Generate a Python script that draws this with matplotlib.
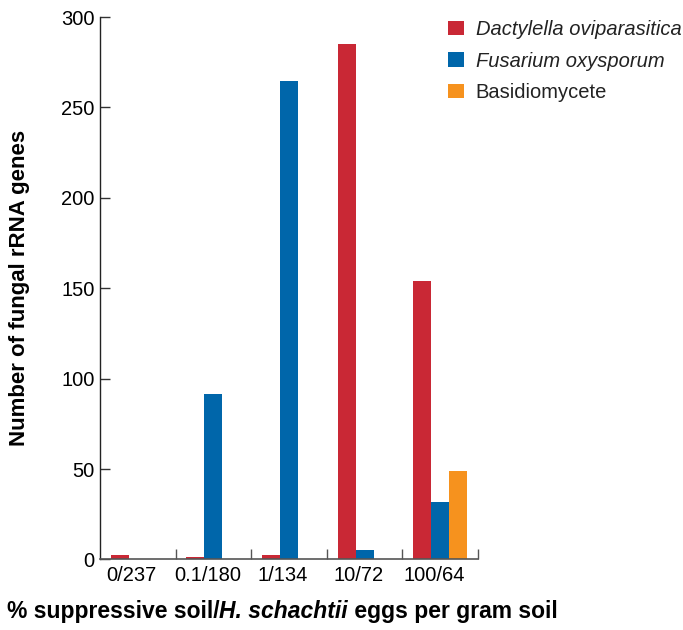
import numpy as np
import matplotlib
matplotlib.use("Agg")
import matplotlib.pyplot as plt

plt.rcParams['font.family'] = ['Liberation Sans', 'DejaVu Sans']

# soil mixtures: % suppressive soil / eggs per gram
categories = ['0/237', '0.1/180', '1/134', '10/72', '100/64']
dactylella = [2.5, 1.5, 2.5, 285, 154]
fusarium = [0, 91.5, 264.5, 5, 32]
basidio = [0, 0, 0, 0, 49]
series_names = ['Dactylella oviparasitica', 'Fusarium oxysporum', 'Basidiomycete']
colors = ['#C92835', '#0066AA', '#F6921E']

fig = plt.figure(figsize=(6.83, 6.30), dpi=100)
ax = fig.add_axes([0.1464, 0.112, 0.5534, 0.861])

x = np.arange(len(categories)) + 0.5
w = 0.238
for i, (vals, name, c) in enumerate(zip([dactylella, fusarium, basidio], series_names, colors)):
    ax.bar(x + (i - 1) * w, vals, width=w, color=c, label=name, linewidth=0)

ax.set_xlim(0, len(categories))
ax.set_ylim(0, 300)
ax.set_yticks(range(0, 301, 50))
ax.tick_params(axis='y', direction='in', length=7, width=1, labelsize=14.5, pad=4, color='#333333')

# category labels near centers, tick marks at boundaries
ax.set_xticks(x - 0.08)
ax.set_xticklabels(categories, fontsize=14.5)
ax.tick_params(axis='x', which='major', length=0, pad=5)
ax.set_xticks(np.arange(1, len(categories) + 1), minor=True)
ax.tick_params(axis='x', which='minor', direction='in', length=7, width=1, color='#555555')

for s in ['top', 'right']:
    ax.spines[s].set_visible(False)
ax.spines['left'].set_color('#222222')
ax.spines['bottom'].set_color('#555555')
ax.spines['left'].set_linewidth(1)
ax.spines['bottom'].set_linewidth(1.2)

ax.set_ylabel('Number of fungal rRNA genes', fontsize=16, fontweight='bold', labelpad=22)

# x label in three pieces so the species name can be bold italic
parts = [('% suppressive soil/', 'normal'), ('H. schachtii', 'italic'), (' eggs per gram soil', 'normal')]
fig.canvas.draw()
r = fig.canvas.get_renderer()
xpos = 0.010
for txt, style in parts:
    t = fig.text(xpos, 0.019, txt, fontsize=16.5, fontweight='bold', fontstyle=style,
                 ha='left', va='baseline')
    bb = t.get_window_extent(renderer=r)
    xpos += bb.width / fig.bbox.width

leg = ax.legend(loc='upper left', bbox_to_anchor=(0.630, 0.997), bbox_transform=fig.transFigure,
                frameon=False, fontsize=14.5, handlelength=0.75, handleheight=0.75,
                handletextpad=0.6, labelspacing=0.62)
for t in leg.get_texts()[:2]:
    t.set_fontstyle('italic')
for t in leg.get_texts():
    t.set_color('#222222')

fig.savefig('out.png', dpi=100)
